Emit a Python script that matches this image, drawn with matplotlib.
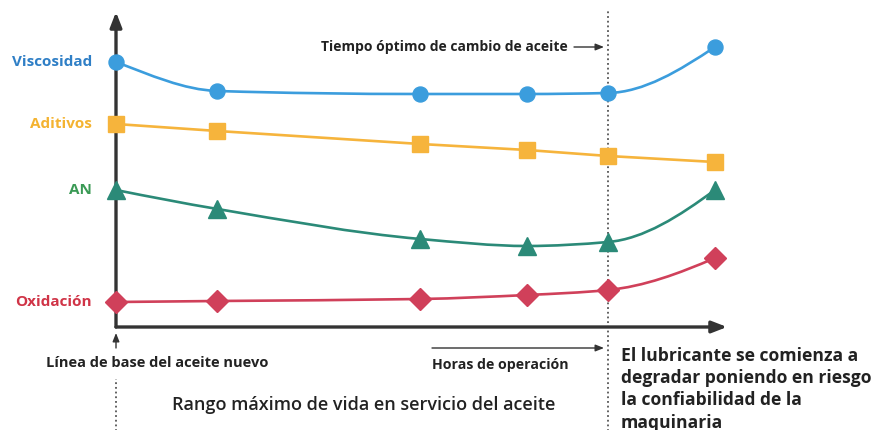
import matplotlib.pyplot as plt
from matplotlib.path import Path
from matplotlib.patches import PathPatch

# -------------------------------------------
# data

hours = [0, 1, 3, 4.05, 4.85, 5.9]
optimum_hour = 4.85

viscosidad = [26.5, 23.6, 23.3, 23.3, 23.4, 28.0]
aditivos = [20.3, 19.6, 18.3, 17.7, 17.1, 16.5]
an_values = [13.7, 11.8, 8.8, 8.1, 8.5, 13.7]
oxidacion = [2.5, 2.6, 2.8, 3.2, 3.7, 6.9]

series = [
    # name, values, line color, label color, marker, marker size, smooth
    ('Viscosidad', viscosidad, '#3b9ddd', '#2f7fc6', 'o', 10.8, True),
    ('Aditivos', aditivos, '#f6b43c', '#f4b331', 's', 11, False),
    ('AN', an_values, '#2b8a78', '#3a9a55', '^', 13.5, True),
    ('Oxidación', oxidacion, '#d0405a', '#d03447', 'D', 10.8, True),
]

W, H = 878, 430
FONT = 'Open Sans'
TEXT = '#222222'


def px(x, y):
    return x / W, 1 - y / H


def pchip_slopes(xs, ys):
    n = len(xs)
    h = [xs[i + 1] - xs[i] for i in range(n - 1)]
    d = [(ys[i + 1] - ys[i]) / h[i] for i in range(n - 1)]
    m = [0.0] * n
    for i in range(1, n - 1):
        if d[i - 1] * d[i] > 0:
            w1 = 2 * h[i] + h[i - 1]
            w2 = h[i] + 2 * h[i - 1]
            m[i] = (w1 + w2) / (w1 / d[i - 1] + w2 / d[i])
    m[0] = ((2 * h[0] + h[1]) * d[0] - h[0] * d[1]) / (h[0] + h[1])
    if m[0] * d[0] <= 0:
        m[0] = 0.0
    m[-1] = ((2 * h[-1] + h[-2]) * d[-1] - h[-1] * d[-2]) / (h[-1] + h[-2])
    if m[-1] * d[-1] <= 0:
        m[-1] = 0.0
    return m


def smooth_path(xs, ys):
    # shape-preserving hermite curve through the points, as bezier segments
    m = pchip_slopes(xs, ys)
    verts = [(xs[0], ys[0])]
    codes = [Path.MOVETO]
    for i in range(len(xs) - 1):
        dx = (xs[i + 1] - xs[i]) / 3
        verts += [(xs[i] + dx, ys[i] + m[i] * dx),
                  (xs[i + 1] - dx, ys[i + 1] - m[i + 1] * dx),
                  (xs[i + 1], ys[i + 1])]
        codes += [Path.CURVE4] * 3
    return Path(verts, codes)


fig = plt.figure(figsize=(W / 100, H / 100), dpi=100)
left, bottom = px(116, 327)
right, top = px(727, 12)
ax = fig.add_axes([left, bottom, right - left, top - bottom])
ax.set_xlim(0, 6.02)
ax.set_ylim(0, 31.5)
ax.axis('off')

# axes arrows
arrow = dict(arrowstyle='-|>,head_length=0.9,head_width=0.35', color='#333333', lw=2.4,
             shrinkA=0, shrinkB=0)
ax.annotate('', xy=(1, 0), xytext=(0, 0), xycoords='axes fraction', arrowprops=arrow)
ax.annotate('', xy=(0, 1), xytext=(0, 0), xycoords='axes fraction', arrowprops=arrow)

for name, values, color, label_color, marker, size, smooth in series:
    if smooth:
        patch = PathPatch(smooth_path(hours, values), facecolor='none', edgecolor=color,
                          lw=1.9, transform=ax.transData, clip_on=False, zorder=3)
        ax.add_patch(patch)
    else:
        ax.plot(hours, values, color=color, lw=1.9, clip_on=False, zorder=3)
    ax.plot(hours, values, linestyle='none', marker=marker, markersize=size, color=color,
            clip_on=False, zorder=4)
    ax.annotate(name, xy=(0, values[0]), xytext=(-24, 0), textcoords='offset pixels',
                ha='right', va='center', color=label_color, fontsize=11,
                fontweight='bold', family=FONT, annotation_clip=False)

# dotted guides
ax.axvline(optimum_hour, ymin=-0.33, ymax=1.01, color='#555555', lw=1.3,
           linestyle=(0, (1, 1.6)), clip_on=False, zorder=2)
ax.axvline(0, ymin=-0.33, ymax=-0.165, color='#555555', lw=1.3,
           linestyle=(0, (1, 1.6)), clip_on=False, zorder=2)

small = dict(arrowstyle='-|>,head_length=0.5,head_width=0.2', color='#333333', lw=1.0,
             shrinkA=0, shrinkB=0)
fig.add_artist(plt.Annotation('', xy=px(116, 333), xytext=px(116, 348),
                              xycoords='figure fraction', arrowprops=small))
fig.add_artist(plt.Annotation('', xy=px(604, 47), xytext=px(574, 47),
                              xycoords='figure fraction', arrowprops=small))
fig.add_artist(plt.Annotation('', xy=px(604, 348), xytext=px(432, 348),
                              xycoords='figure fraction', arrowprops=small))

fig.text(*px(444, 47), 'Tiempo óptimo de cambio de aceite', ha='center', va='center',
         fontsize=10, fontweight='bold', family=FONT, color=TEXT)
fig.text(*px(157, 363), 'Línea de base del aceite nuevo', ha='center', va='center',
         fontsize=10.5, fontweight='bold', family=FONT, color=TEXT)
fig.text(*px(500, 365), 'Horas de operación', ha='center', va='center',
         fontsize=10.2, fontweight='bold', family=FONT, color=TEXT)
fig.text(*px(364, 405), 'Rango máximo de vida en servicio del aceite', ha='center',
         va='center', fontsize=13, fontweight='semibold', family=FONT, color=TEXT)
fig.text(*px(621, 347), 'El lubricante se comienza a\ndegradar poniendo en riesgo\n'
         'la confiabilidad de la\nmaquinaria', ha='left', va='top', fontsize=12.6,
         fontweight='bold', family=FONT, color=TEXT, linespacing=1.3)

fig.savefig('out.png', dpi=100)
